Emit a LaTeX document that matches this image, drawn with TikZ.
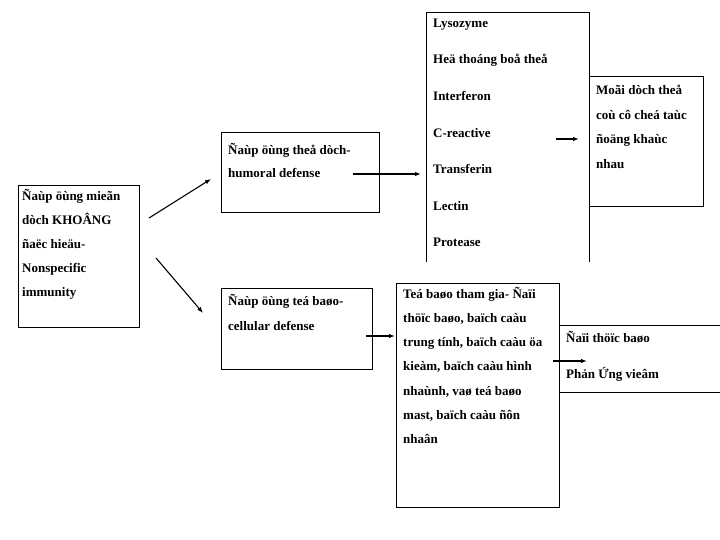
\documentclass[tikz,border=0pt]{standalone}
\usepackage{fontspec}
\setmainfont{Liberation Serif}
\usetikzlibrary{arrows.meta}
\begin{document}
\begin{tikzpicture}[x=1pt,y=-1pt,
  box/.style={draw=black,line width=0.8pt},
  txt/.style={anchor=north west,inner sep=0pt,align=left,font=\bfseries\fontsize{13}{24}\selectfont},
  arr/.style={line width=1.1pt,-{Latex[length=6pt,width=4.5pt]}}]
\useasboundingbox (0,0) rectangle (720,540);
% boxes
\draw[box] (18,185) rectangle (139,327);
\draw[box] (221,132) rectangle (379,212);
\draw[box] (221,288) rectangle (372,369);
\draw[box] (426,12) -- (589,12) -- (589,262);
\draw[box] (426,12) -- (426,262);
\draw[box] (589,76) rectangle (703,206);
\draw[box] (396,283) rectangle (559,507);
\draw[box] (559,325) -- (720,325);
\draw[box] (559,392) -- (720,392);
% texts
\node[txt] (tleft) at (22,189) {Ñaùp öùng mieãn\\dòch KHOÂNG\\ñaëc hieäu-\\Nonspecific\\immunity};
\node[txt,font=\bfseries\fontsize{13}{23}\selectfont] (thum) at (228,143) {Ñaùp öùng theå dòch-\\humoral defense};
\node[txt,font=\bfseries\fontsize{13}{25}\selectfont] (tcel) at (228,294) {Ñaùp öùng teá baøo-\\cellular defense};
\node[txt,font=\bfseries\fontsize{13}{36.6}\selectfont] (tlys) at (433,18.5) {Lysozyme\\Heä thoáng boå theå\\Interferon\\C-reactive\\Transferin\\Lectin\\Protease};
\node[txt,font=\bfseries\fontsize{13}{24.5}\selectfont] (tmoi) at (596,85) {Moãi dòch theå\\coù cô cheá taùc\\ñoäng khaùc\\nhau};
\node[txt,font=\bfseries\fontsize{13}{24.2}\selectfont] (ttea) at (403,287) {Teá baøo tham gia- Ñaïi\\thöïc baøo, baïch caàu\\trung tính, baïch caàu öa\\kieàm, baïch caàu hình\\nhaùnh, vaø teá baøo\\mast, baïch caàu ñôn\\nhaân};
\node[txt,font=\bfseries\fontsize{13}{36}\selectfont] (tdai) at (566,331) {Ñaïi thöïc baøo\\Phản Ứng vieâm};
% arrow coordinates
\coordinate (a1s) at (149,218); \coordinate (a1e) at (211,179);
\coordinate (a2s) at (156,258); \coordinate (a2e) at (203,313);
\coordinate (a3s) at (353,174); \coordinate (a3e) at (421,174);
\coordinate (a4s) at (366,336); \coordinate (a4e) at (395,336);
\coordinate (a5s) at (556,139); \coordinate (a5e) at (579,139);
\coordinate (a6s) at (553,361); \coordinate (a6e) at (587,361);
\draw[arr] (a1s) -- (a1e);
\draw[arr] (a2s) -- (a2e);
\draw[arr] (a3s) -- (a3e);
\draw[arr] (a4s) -- (a4e);
\draw[arr] (a5s) -- (a5e);
\draw[arr] (a6s) -- (a6e);
\end{tikzpicture}
\end{document}
